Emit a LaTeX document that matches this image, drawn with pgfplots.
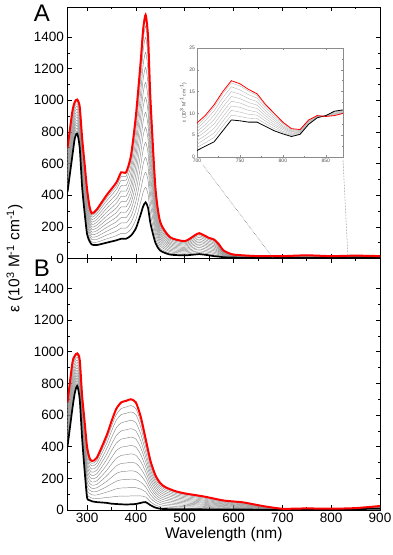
\documentclass[border=0pt]{standalone}
\usepackage{fontspec}
\setmainfont{Liberation Sans}
\usepackage{pgfplots}
\usepackage{pgfplotstable}
\pgfplotsset{compat=1.18}

\pgfplotstableread{
x b c1 c2 c3 c4 c5 c6 c7 c8 c9 c10 c11 c12 r
260 420 442 465 487 510 532 554 577 599 622 644 666 683 700
270 650 672 695 717 740 762 784 807 829 852 874 896 913 930
275 760 778 797 815 834 852 870 889 907 926 944 962 976 990
280 790 807 824 842 859 876 893 910 928 945 962 979 992 1005
285 700 720 740 760 780 800 820 840 860 880 900 920 935 960
290 450 475 500 524 549 574 599 624 648 673 698 723 741 760
295 290 315 340 364 389 414 439 464 488 513 538 563 581 600
300 155 178 201 223 246 269 292 315 337 360 383 406 423 440
305 110 128 145 163 180 198 216 233 251 268 286 304 317 330
310 88 104 120 135 151 167 183 198 214 230 246 261 273 285
320 85 103 121 139 157 175 193 211 229 247 265 283 297 310
340 100 124 148 172 196 220 244 268 292 316 340 364 382 400
360 115 144 173 203 232 261 290 319 349 378 407 436 458 480
370 125 159 192 226 259 293 327 360 394 427 461 495 520 545
380 125 159 192 226 259 293 327 360 394 427 461 495 520 545
390 145 185 226 266 307 347 387 428 468 509 549 589 620 650
400 190 247 304 360 417 474 531 588 644 701 758 815 857 900
410 280 358 435 513 590 668 746 823 901 978 1056 1134 1192 1250
415 330 420 509 599 688 778 868 957 1047 1136 1226 1316 1383 1450
420 355 450 545 639 734 829 924 1019 1113 1208 1303 1398 1469 1540
425 320 406 493 579 666 752 838 925 1011 1098 1184 1270 1335 1400
430 220 282 345 407 470 532 594 657 719 782 844 906 953 1000
440 100 128 156 184 212 240 268 296 324 352 380 408 429 450
450 50 64 79 93 108 122 136 151 165 180 194 208 219 230
470 25 34 43 51 60 69 78 87 95 104 113 122 128 135
500 20 27 34 42 49 56 63 70 78 85 92 99 105 110
520 25 35 44 54 63 73 83 92 102 111 121 131 138 145
530 28 39 49 60 70 81 91 102 112 123 134 144 152 160
550 20 29 38 46 55 64 73 82 90 99 108 117 123 130
560 15 23 32 40 49 57 65 74 82 91 99 107 114 120
570 12 18 24 31 37 43 49 56 62 68 74 81 85 90
580 8 11 15 18 21 25 28 32 35 38 42 45 47 50
600 6 8 9 11 12 14 15 17 18 20 21 23 24 25
650 4 5 6 7 8 8 9 10 11 12 13 14 14 15
700 3 4 5 6 7 8 9 10 11 12 13 14 14 15
750 4 5 7 8 9 10 12 13 14 16 17 18 19 20
800 4 5 6 7 8 8 9 10 11 12 13 14 14 15
850 6 7 8 9 10 11 12 13 14 15 16 17 17 18
900 6 7 7 8 9 10 10 11 12 12 13 14 14 15
}\tabA

\pgfplotstableread{
x b c1 c2 c3 c4 c5 c6 c7 c8 c9 c10 c11 c12 r
260 400 422 445 467 490 512 534 557 579 602 624 646 663 680
270 640 663 686 710 733 756 779 802 826 849 872 895 913 930
275 740 759 778 796 815 834 853 872 890 909 928 947 961 975
280 785 801 818 834 851 867 883 900 916 933 949 965 978 990
285 700 720 740 760 780 800 820 840 860 880 900 920 935 950
290 450 472 493 515 536 558 580 601 623 644 666 688 704 720
295 250 275 300 324 349 374 399 424 448 473 498 523 541 560
300 80 106 131 157 182 208 234 259 285 310 336 362 381 400
305 62 83 105 126 148 169 191 212 234 255 276 298 314 330
310 55 75 96 116 137 157 177 198 218 239 259 279 295 310
320 50 72 95 117 140 162 184 207 229 252 274 296 313 330
340 45 79 113 147 181 215 249 283 317 351 385 419 445 470
350 40 82 123 165 206 248 290 331 373 414 456 498 529 560
360 38 86 134 182 231 279 327 375 423 471 520 568 604 640
370 36 88 139 191 242 294 345 397 448 500 551 603 641 680
380 35 87 140 192 245 297 349 402 454 507 559 611 651 690
390 36 89 142 195 248 302 355 408 461 514 567 620 660 700
400 38 89 141 192 243 295 346 398 449 500 552 603 641 680
410 45 89 132 176 219 263 307 350 394 437 481 525 557 590
420 50 82 114 146 178 210 242 274 306 338 370 402 426 450
430 30 52 75 97 120 142 164 187 209 232 254 276 293 310
440 15 31 48 64 81 97 113 130 146 163 179 195 208 220
450 8 21 34 47 60 73 86 99 112 125 138 151 160 170
460 6 17 28 39 50 62 73 84 95 106 117 128 137 145
480 5 14 23 33 42 51 60 69 79 88 97 106 113 120
500 5 13 21 29 37 45 53 61 69 77 85 93 99 105
540 4 10 17 23 30 36 43 49 56 62 69 75 80 85
580 3 8 12 17 21 26 30 35 39 44 49 53 57 60
620 3 7 10 14 17 21 25 28 32 35 39 43 45 48
660 2 4 6 8 9 11 13 15 17 19 20 22 24 25
700 2 2 3 3 4 4 5 5 6 6 7 7 8 8
750 3 4 4 5 5 6 6 7 7 8 9 9 10 10
800 3 3 4 4 5 5 5 6 6 7 7 7 8 8
850 6 6 7 7 8 8 9 9 10 10 11 11 12 12
900 8 9 11 12 13 15 16 18 19 20 22 23 24 25
}\tabB

\pgfplotstableread{
x b g1 g2 g3 g4 g5 g6 g7 g8 r
700 1.5 2.2 2.9 3.7 4.4 5.1 5.8 6.5 7.1 7.8
710 2.5 3.3 4.2 5.0 5.9 6.7 7.5 8.4 9.1 9.6
720 3.5 4.5 5.5 6.6 7.6 8.6 9.6 10.6 11.5 12.0
730 6 7.1 8.2 9.2 10.3 11.4 12.5 13.6 14.5 15.0
740 8.5 9.6 10.7 11.7 12.8 13.9 15.0 16.1 17.0 17.5
750 8.3 9.3 10.3 11.4 12.4 13.4 14.4 15.4 16.3 16.8
760 8 8.9 9.8 10.7 11.6 12.5 13.4 14.3 15.1 15.5
770 8 8.8 9.6 10.3 11.1 11.9 12.7 13.5 14.1 14.5
780 7 7.6 8.2 8.8 9.4 10.0 10.6 11.2 11.7 12.0
790 6 6.5 7.0 7.4 7.9 8.4 8.9 9.4 9.8 10.0
800 5.3 5.6 5.9 6.3 6.6 6.9 7.2 7.6 7.8 8.0
810 4.7 4.9 5.1 5.3 5.6 5.8 6.0 6.2 6.4 6.5
820 5.2 5.3 5.5 5.6 5.7 5.9 6.0 6.1 6.2 6.3
830 7.5 7.6 7.7 7.9 8.0 8.1 8.2 8.3 8.4 8.5
840 9 9.1 9.1 9.2 9.2 9.3 9.4 9.4 9.5 9.5
850 9.5 9.5 9.5 9.4 9.4 9.4 9.4 9.3 9.3 9.3
860 10.5 10.4 10.3 10.1 10.0 9.9 9.8 9.7 9.6 9.5
870 10.8 10.7 10.6 10.5 10.4 10.3 10.2 10.1 10.0 10.0
}\tabC

\pgfplotsset{
  panel/.style={
    scale only axis, width=312.5pt, height=251.5pt,
    xmin=260, xmax=900, ymin=0, ymax=1590,
    xtick={300,400,...,900}, ytick={0,200,...,1400},
    minor x tick num=1, minor y tick num=1,
    tick align=inside, xtick pos=both, ytick pos=both,
    xticklabel pos=lower, yticklabel pos=left,
    major tick length=4.5pt, minor tick length=2.5pt,
    axis line style={line width=0.8pt},
    every tick/.style={line width=0.7pt, black},
    tick label style={font=\fontsize{13.5}{15}\selectfont},
    /pgf/number format/assume math mode=true,
    /pgf/number format/1000 sep={},
    every axis plot/.append style={no markers, smooth, tension=0.4},
  },
  grayline/.style={black!45, line width=0.45pt},
  blackline/.style={black, line width=1.7pt},
  redline/.style={red, line width=2pt},
}

\begin{document}
\begin{tikzpicture}
\path[use as bounding box] (-67.5pt,-45pt) rectangle (324.5pt,510pt);

% Panel B (bottom)
\begin{axis}[panel, at={(0pt,0pt)},
  xlabel={Wavelength (nm)},
  xlabel style={font=\fontsize{15.5}{17}\selectfont, yshift=3pt}]
\pgfplotsinvokeforeach{1,...,12}{\addplot[grayline] table[x=x,y=c#1]{\tabB};}
\addplot[blackline] table[x=x,y=b]{\tabB};
\addplot[redline] table[x=x,y=r]{\tabB};
\end{axis}

% Panel A (top)
\begin{axis}[panel, at={(0pt,251.5pt)}, xticklabels={}]
\pgfplotsinvokeforeach{1,...,12}{\addplot[grayline] table[x=x,y=c#1]{\tabA};}
\addplot[blackline] table[x=x,y=b]{\tabA};
\addplot[redline] table[x=x,y=r]{\tabA};
\end{axis}

% zoom lines
\draw[densely dotted, black!60, line width=0.5pt] (135.5pt,345pt) -- (205.5pt,252pt);
\draw[densely dotted, black!60, line width=0.5pt] (275.5pt,350pt) -- (280.5pt,252pt);

% Inset
\begin{axis}[scale only axis, at={(129.5pt,353pt)}, width=146pt, height=109pt,
  xmin=700, xmax=870, ymin=0, ymax=25,
  xtick={700,750,800,850}, ytick={0,5,...,25},
  minor x tick num=1, minor y tick num=1,
  tick align=inside, xtick pos=both, ytick pos=both,
  xticklabel pos=lower, yticklabel pos=left,
  major tick length=2pt, minor tick length=1.2pt,
  axis line style={black!45, line width=0.5pt},
  every tick/.style={black!45, line width=0.4pt},
  axis background/.style={fill=white},
  tick label style={font=\fontsize{5}{6}\selectfont, text=black!70},
  xticklabel style={yshift=1.5pt}, yticklabel style={xshift=1.5pt},
  ylabel={ε (10\textsuperscript{3} M\textsuperscript{-1} cm\textsuperscript{-1})},
  ylabel style={font=\fontsize{5}{6}\selectfont, text=black!70, yshift=-4pt},
  /pgf/number format/assume math mode=true,
  /pgf/number format/1000 sep={},
  every axis plot/.append style={no markers}]
\pgfplotsinvokeforeach{1,...,8}{\addplot[black!30, line width=0.35pt] table[x=x,y=g#1]{\tabC};}
\addplot[black, line width=0.8pt] table[x=x,y=b]{\tabC};
\addplot[red, line width=0.8pt] table[x=x,y=r]{\tabC};
\end{axis}

% panel letters and shared y label
\node[font=\fontsize{24}{26}\selectfont] at (-25.5pt,497pt) {A};
\node[font=\fontsize{24}{26}\selectfont] at (-25.5pt,242pt) {B};
\node[rotate=90, font=\fontsize{15.5}{17}\selectfont] at (-53pt,251.5pt) {ε (10\textsuperscript{3} M\textsuperscript{-1} cm\textsuperscript{-1})};
\end{tikzpicture}
\end{document}
